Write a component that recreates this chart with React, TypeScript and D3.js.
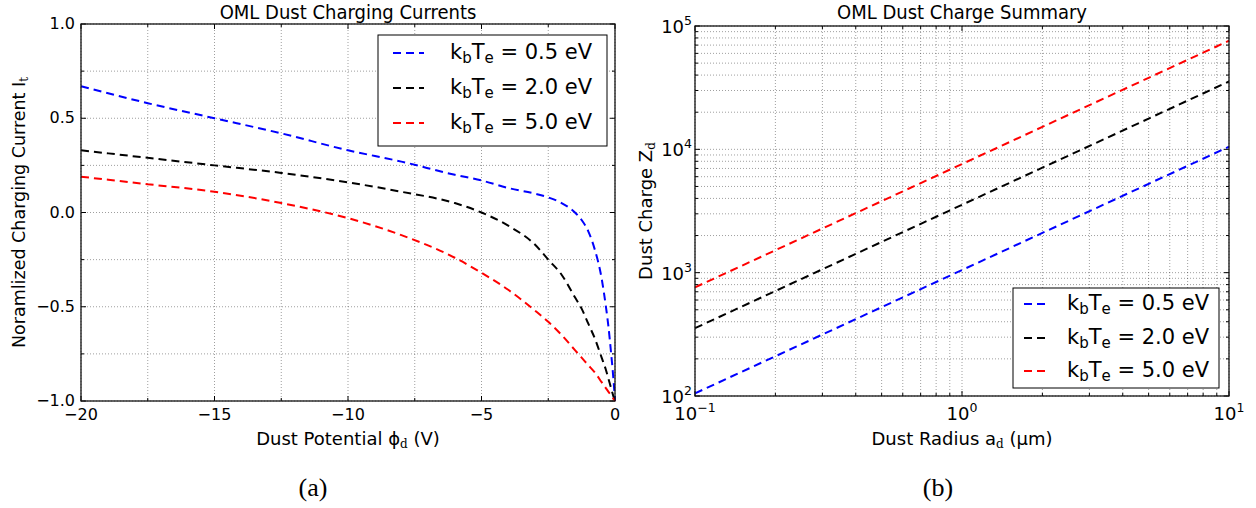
import React from 'react';
import * as d3 from 'd3';

// Panel (a): normalized OML charging current versus dust surface potential
const potential = [-20, -17.5, -15, -12.5, -10, -8, -6, -5, -4, -3, -2.5, -2, -1.5, -1.25, -1, -0.75, -0.5, -0.35, -0.25, -0.15, -0.05, 0];
const currentTe05 = [0.67, 0.58, 0.5, 0.42, 0.33, 0.27, 0.2, 0.17, 0.13, 0.1, 0.08, 0.05, 0.0, -0.04, -0.1, -0.2, -0.35, -0.49, -0.6, -0.74, -0.9, -1.0];
const currentTe20 = [0.33, 0.29, 0.25, 0.21, 0.16, 0.11, 0.05, 0.0, -0.07, -0.17, -0.25, -0.33, -0.45, -0.51, -0.59, -0.67, -0.77, -0.83, -0.88, -0.93, -0.98, -1.0];
const currentTe50 = [0.19, 0.15, 0.11, 0.05, -0.03, -0.12, -0.24, -0.32, -0.41, -0.52, -0.58, -0.65, -0.73, -0.77, -0.81, -0.85, -0.9, -0.93, -0.95, -0.97, -0.99, -1.0];

// Panel (b): equilibrium dust charge number versus grain radius (µm)
const radius = [0.1, 0.2, 0.5, 1, 2, 5, 10];
const chargeTe05 = [105, 210, 525, 1050, 2100, 5250, 10500];
const chargeTe20 = [355, 710, 1775, 3550, 7100, 17750, 35500];
const chargeTe50 = [760, 1520, 3800, 7600, 15200, 38000, 76000];

const temperatures = ['0.5', '2.0', '5.0'];
const colors = ['#0000ff', '#000000', '#ff0000'];

const potentialTicks = [-20, -15, -10, -5, 0];
const currentTicks = [-1, -0.5, 0, 0.5, 1];
const radiusDecades = [-1, 0, 1];
const chargeDecades = [2, 3, 4, 5];

const SANS = 'DejaVu Sans, sans-serif';
const SERIF = 'DejaVu Serif, serif';
const DASH = '8,5';
const GRID = { stroke: '#000', strokeOpacity: 0.55, strokeWidth: 0.7, strokeDasharray: '1,2' };

const fmtMinus = (v: number, digits: number) => {
  const s = Math.abs(v).toFixed(digits);
  return v < 0 ? '\u2212' + s : s;
};

const A = { x0: 81, x1: 615, y0: 24, y1: 401 };
const B = { x0: 695, x1: 1229, y0: 26, y1: 396 };

function Legend({ x, y, w, h, handleX, handleLen, textX, rows }: any) {
  return (
    <g>
      <rect x={x} y={y} width={w} height={h} fill="#fff" stroke="#000" strokeWidth={1} />
      {temperatures.map((t, i) => (
        <g key={t}>
          <line x1={x + handleX} x2={x + handleX + handleLen} y1={y + rows[i]} y2={y + rows[i]}
            stroke={colors[i]} strokeWidth={2} strokeDasharray={DASH} />
          <text x={x + textX} y={y + rows[i] + 6} fontFamily={SANS} fontSize={21} fill="#000">
            k<tspan fontSize={15} dy={4}>b</tspan><tspan dy={-4}>T</tspan><tspan fontSize={15} dy={4}>e</tspan>
            <tspan dy={-4}>{` = ${t} eV`}</tspan>
          </text>
        </g>
      ))}
    </g>
  );
}

function PanelA() {
  const x = d3.scaleLinear().domain([-20, 0]).range([A.x0, A.x1]);
  const y = d3.scaleLinear().domain([-1, 1]).range([A.y1, A.y0]);
  const xGrid = d3.range(-20, 0.001, 2.5);
  const yGrid = d3.range(-1, 1.001, 0.25);
  const line = d3.line<[number, number]>().x(d => x(d[0])).y(d => y(d[1])).curve(d3.curveMonotoneX);
  const series = [currentTe05, currentTe20, currentTe50];
  return (
    <g>
      {xGrid.map(v => <line key={'gx' + v} x1={x(v)} x2={x(v)} y1={A.y0} y2={A.y1} {...GRID} />)}
      {yGrid.map(v => <line key={'gy' + v} x1={A.x0} x2={A.x1} y1={y(v)} y2={y(v)} {...GRID} />)}
      {xGrid.map(v => {
        const len = potentialTicks.includes(v) ? 5 : 3;
        return (
          <g key={'tx' + v}>
            <line x1={x(v)} x2={x(v)} y1={A.y1} y2={A.y1 - len} stroke="#000" />
            <line x1={x(v)} x2={x(v)} y1={A.y0} y2={A.y0 + len} stroke="#000" />
          </g>
        );
      })}
      {yGrid.map(v => {
        const len = currentTicks.some(t => Math.abs(t - v) < 1e-9) ? 5 : 3;
        return (
          <g key={'ty' + v}>
            <line x1={A.x0} x2={A.x0 + len} y1={y(v)} y2={y(v)} stroke="#000" />
            <line x1={A.x1} x2={A.x1 - len} y1={y(v)} y2={y(v)} stroke="#000" />
          </g>
        );
      })}
      {series.map((s, i) => (
        <path key={i} d={line(potential.map((p, j) => [p, s[j]] as [number, number])) || ''}
          fill="none" stroke={colors[i]} strokeWidth={2} strokeDasharray={DASH} />
      ))}
      <rect x={A.x0} y={A.y0} width={A.x1 - A.x0} height={A.y1 - A.y0} fill="none" stroke="#111" strokeWidth={1.3} />
      {potentialTicks.map(v => (
        <text key={'lx' + v} x={x(v)} y={A.y1 + 19} textAnchor="middle" fontFamily={SANS} fontSize={16}>
          {v === 0 ? '0' : fmtMinus(v, 0)}
        </text>
      ))}
      {currentTicks.map(v => (
        <text key={'ly' + v} x={A.x0 - 6} y={y(v) + 5} textAnchor="end" fontFamily={SANS} fontSize={16}>
          {v === 0 ? '0.0' : fmtMinus(v, 1)}
        </text>
      ))}
      <text x={(A.x0 + A.x1) / 2} y={19} textAnchor="middle" fontFamily={SANS} fontStretch="condensed" fontSize={20}>OML Dust Charging Currents</text>
      <text x={(A.x0 + A.x1) / 2} y={445} textAnchor="middle" fontFamily={SANS} fontSize={18}>
        Dust Potential {'\u03D5'}<tspan fontFamily={SERIF} fontSize={12} dy={3}>d</tspan><tspan dy={-3}> (V)</tspan>
      </text>
      <text transform={`translate(25,${(A.y0 + A.y1) / 2}) rotate(-90)`} textAnchor="middle" fontFamily={SANS} fontSize={17.5}>
        Noramlized Charging Current I<tspan fontFamily={SERIF} fontSize={12} dy={3}>t</tspan>
      </text>
      <Legend x={A.x1 - 8 - 229} y={A.y0 + 11} w={229} h={111} handleX={15} handleLen={31} textX={72} rows={[18, 53, 88]} />
      <text x={313} y={496} textAnchor="middle" fontFamily="Liberation Serif, serif" fontSize={26}>(a)</text>
    </g>
  );
}

function PanelB() {
  const x = d3.scaleLog().domain([0.1, 10]).range([B.x0, B.x1]);
  const y = d3.scaleLog().domain([100, 1e5]).range([B.y1, B.y0]);
  const xMinor: number[] = [];
  [0.1, 1].forEach(d => d3.range(2, 10).forEach(k => xMinor.push(d * k)));
  const yMinor: number[] = [];
  [100, 1000, 10000].forEach(d => d3.range(2, 10).forEach(k => yMinor.push(d * k)));
  const xMajor = radiusDecades.map(e => Math.pow(10, e));
  const yMajor = chargeDecades.map(e => Math.pow(10, e));
  const line = d3.line<[number, number]>().x(d => x(d[0])).y(d => y(d[1]));
  const series = [chargeTe05, chargeTe20, chargeTe50];
  return (
    <g>
      {[...xMinor, ...xMajor].map(v => <line key={'gx' + v} x1={x(v)} x2={x(v)} y1={B.y0} y2={B.y1} {...GRID} />)}
      {[...yMinor, ...yMajor].map(v => <line key={'gy' + v} x1={B.x0} x2={B.x1} y1={y(v)} y2={y(v)} {...GRID} />)}
      {[...xMinor.map(v => [v, 3]), ...xMajor.map(v => [v, 5])].map(([v, len]) => (
        <g key={'tx' + v}>
          <line x1={x(v)} x2={x(v)} y1={B.y1} y2={B.y1 - len} stroke="#000" />
          <line x1={x(v)} x2={x(v)} y1={B.y0} y2={B.y0 + len} stroke="#000" />
        </g>
      ))}
      {[...yMinor.map(v => [v, 3]), ...yMajor.map(v => [v, 5])].map(([v, len]) => (
        <g key={'ty' + v}>
          <line x1={B.x0} x2={B.x0 + len} y1={y(v)} y2={y(v)} stroke="#000" />
          <line x1={B.x1} x2={B.x1 - len} y1={y(v)} y2={y(v)} stroke="#000" />
        </g>
      ))}
      {series.map((s, i) => (
        <path key={i} d={line(radius.map((r, j) => [r, s[j]] as [number, number])) || ''}
          fill="none" stroke={colors[i]} strokeWidth={2} strokeDasharray={DASH} />
      ))}
      <rect x={B.x0} y={B.y0} width={B.x1 - B.x0} height={B.y1 - B.y0} fill="none" stroke="#111" strokeWidth={1.3} />
      {radiusDecades.map(e => (
        <text key={'lx' + e} x={x(Math.pow(10, e))} y={B.y1 + 24} textAnchor="middle" fontFamily={SANS} fontSize={18}>
          10<tspan fontSize={12.5} dy={-8}>{fmtMinus(e, 0)}</tspan>
        </text>
      ))}
      {chargeDecades.map(e => (
        <text key={'ly' + e} x={B.x0 - 3} y={y(Math.pow(10, e)) + 7} textAnchor="end" fontFamily={SANS} fontSize={18}>
          10<tspan fontSize={12.5} dy={-8}>{String(e)}</tspan>
        </text>
      ))}
      <text x={(B.x0 + B.x1) / 2} y={19} textAnchor="middle" fontFamily={SANS} fontStretch="condensed" fontSize={20}>OML Dust Charge Summary</text>
      <text x={(B.x0 + B.x1) / 2} y={445} textAnchor="middle" fontFamily={SANS} fontSize={18}>
        Dust Radius a<tspan fontFamily={SERIF} fontSize={12} dy={3}>d</tspan><tspan dy={-3}> ({'\u00B5'}m)</tspan>
      </text>
      <text transform={`translate(652,${(B.y0 + B.y1) / 2}) rotate(-90)`} textAnchor="middle" fontFamily={SANS} fontSize={18}>
        Dust Charge Z<tspan fontFamily={SERIF} fontSize={12} dy={3}>d</tspan>
      </text>
      <Legend x={B.x1 - 10 - 206} y={B.y1 - 8 - 100} w={206} h={100} handleX={11} handleLen={21} textX={54} rows={[16, 50, 83]} />
      <text x={938} y={496} textAnchor="middle" fontFamily="Liberation Serif, serif" fontSize={26}>(b)</text>
    </g>
  );
}

export default function App() {
  return (
    <svg width={1256} height={508} style={{ position: 'absolute', left: 0, top: 0, background: '#fff' }}>
      <rect width={1256} height={508} fill="#fff" />
      <PanelA />
      <PanelB />
    </svg>
  );
}
